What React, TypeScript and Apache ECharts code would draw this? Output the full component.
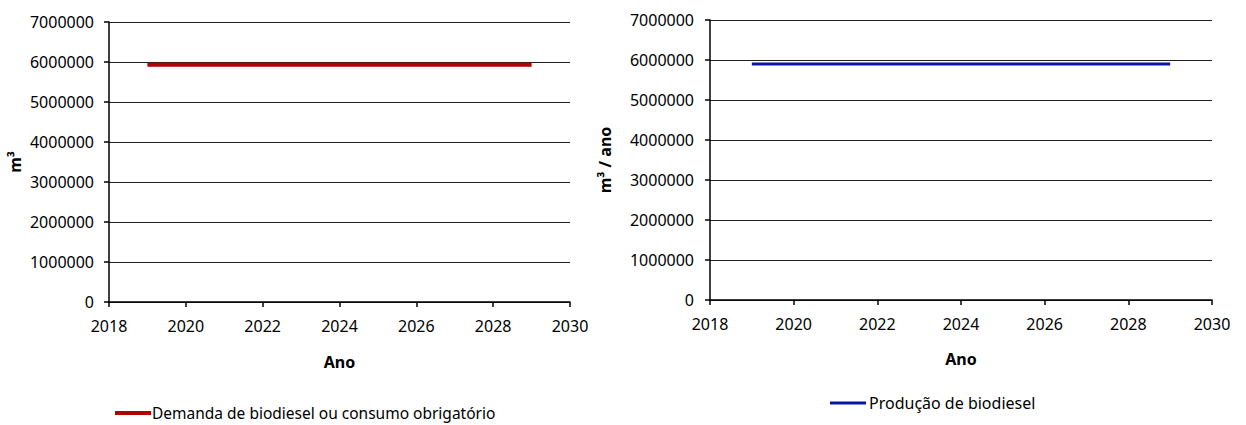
import React, { useEffect, useRef } from "react";
import * as echarts from "echarts";

const years = [2019, 2020, 2021, 2022, 2023, 2024, 2025, 2026, 2027, 2028, 2029];
const demanda = [5930000, 5930000, 5930000, 5930000, 5930000, 5930000, 5930000, 5930000, 5930000, 5930000, 5930000];
const producao = [5900000, 5900000, 5900000, 5900000, 5900000, 5900000, 5900000, 5900000, 5900000, 5900000, 5900000];
const leftSeriesName = "Demanda de biodiesel ou consumo obrigatório";
const rightSeriesName = "Produção de biodiesel";
const xName = "Ano";
const leftYName = "m³";
const rightYName = "m³ / ano";

const FONT = "Noto Sans";

export default function App() {
  const ref = useRef<HTMLDivElement>(null);
  useEffect(() => {
    document.body.style.margin = "0";
    const chart = echarts.init(ref.current!, null, { renderer: "svg" });
    const xAxisBase = (gridIndex: number, gap: number) => ({
      type: "value" as const,
      gridIndex,
      min: 2018,
      max: 2030,
      interval: 2,
      name: xName,
      nameLocation: "middle" as const,
      nameGap: gap,
      nameTextStyle: { fontFamily: FONT, fontWeight: "bold", fontSize: 16, color: "#000" },
      axisLine: { show: true, onZero: false, lineStyle: { color: "#000", width: 1.5 } },
      axisTick: { show: true, length: 5, lineStyle: { color: "#000", width: 1.5 } },
      axisLabel: { margin: 16, fontFamily: FONT, fontSize: 16, color: "#000", formatter: (v: number) => String(v) },
      splitLine: { show: false },
    });
    const yAxisBase = (gridIndex: number, name: string, gap: number, labelMargin: number) => ({
      type: "value" as const,
      gridIndex,
      min: 0,
      max: 7000000,
      interval: 1000000,
      name,
      nameLocation: "middle" as const,
      nameGap: gap,
      nameRotate: 90,
      nameTextStyle: { fontFamily: FONT, fontWeight: "bold", fontSize: 16, color: "#000" },
      axisLine: { show: true, lineStyle: { color: "#000", width: 1.5 } },
      axisTick: { show: true, length: 5, lineStyle: { color: "#000", width: 1.5 } },
      axisLabel: { margin: labelMargin, fontFamily: FONT, fontSize: 16, color: "#000", formatter: (v: number) => String(v) },
      splitLine: { show: true, lineStyle: { color: "#222", width: 1.2 } },
    });
    chart.setOption({
      animation: false,
      backgroundColor: "#fff",
      grid: [
        { left: 109, right: 676, top: 22, bottom: 123 },
        { left: 710, right: 34, top: 20, bottom: 125 },
      ],
      xAxis: [xAxisBase(0, 52), xAxisBase(1, 51)],
      yAxis: [yAxisBase(0, leftYName, 86, 15), yAxisBase(1, rightYName, 97, 16)],
      legend: [
        {
          data: [leftSeriesName],
          left: 115,
          top: 405,
          padding: 0,
          icon: "rect",
          itemWidth: 36,
          itemHeight: 4,
          itemGap: 0,
          textStyle: { fontFamily: FONT, fontSize: 15.5, color: "#000", padding: [0, 0, 0, -4] },
        },
        {
          data: [rightSeriesName],
          left: 830,
          top: 395,
          padding: 0,
          icon: "rect",
          itemWidth: 36,
          itemHeight: 3,
          itemGap: 0,
          textStyle: { fontFamily: FONT, fontSize: 16, color: "#000", padding: [0, 0, 0, -2] },
        },
      ],
      series: [
        {
          name: leftSeriesName,
          type: "line",
          xAxisIndex: 0,
          yAxisIndex: 0,
          symbol: "none",
          color: "#B00000",
          lineStyle: { color: "#B00000", width: 4 },
          data: years.map((y, i) => [y, demanda[i]]),
        },
        {
          name: rightSeriesName,
          type: "line",
          xAxisIndex: 1,
          yAxisIndex: 1,
          symbol: "none",
          color: "#0A14A8",
          lineStyle: { color: "#0A14A8", width: 3 },
          data: years.map((y, i) => [y, producao[i]]),
        },
      ],
    });
    return () => chart.dispose();
  }, []);
  return <div ref={ref} style={{ width: 1246, height: 425 }} />;
}
